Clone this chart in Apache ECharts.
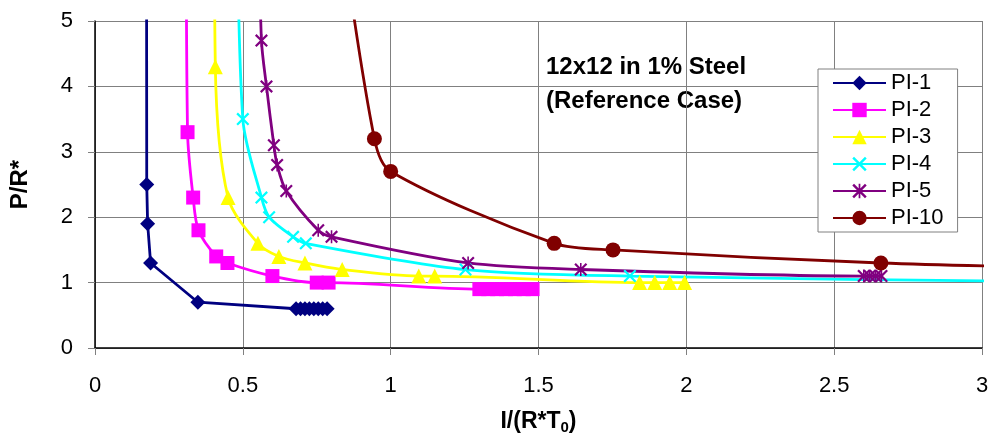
<!DOCTYPE html>
<html>
<head>
<meta charset="utf-8">
<script src="https://cdn.jsdelivr.net/npm/echarts@6/dist/echarts.min.js"></script>
<style>
  html, body { margin: 0; padding: 0; background: #fff; }
  #chart { width: 990px; height: 439px; }
</style>
</head>
<body>
<div id="chart"></div>
<script>
// values
const xTicks = [0, 0.5, 1, 1.5, 2, 2.5, 3]
const yTicks = [0, 1, 2, 3, 4, 5]

const pi1X = [0.174, 0.175, 0.178, 0.188, 0.348, 0.68, 0.695, 0.71, 0.725, 0.74, 0.755, 0.77, 0.785]
const pi1Y = [8, 2.5, 1.9, 1.3, 0.7, 0.6, 0.6, 0.6, 0.6, 0.6, 0.6, 0.6, 0.6]

const pi2X = [0.308, 0.313, 0.332, 0.35, 0.41, 0.448, 0.6, 0.75, 0.79, 1.3, 1.33, 1.36, 1.39, 1.42, 1.45, 1.48]
const pi2Y = [8, 3.3, 2.3, 1.8, 1.4, 1.3, 1.1, 1.0, 1.0, 0.9, 0.9, 0.9, 0.9, 0.9, 0.9, 0.9]

const pi3X = [0.403, 0.407, 0.45, 0.551, 0.622, 0.71, 0.836, 1.095, 1.149, 1.842, 1.893, 1.944, 1.994]
const pi3Y = [8, 4.3, 2.3, 1.6, 1.4, 1.3, 1.2, 1.1, 1.1, 1.0, 1.0, 1.0, 1.0]

const pi4X = [0.478, 0.5, 0.563, 0.589, 0.67, 0.713, 1.253, 1.809, 3.5]
const pi4Y = [8, 3.5, 2.3, 2.0, 1.7, 1.6, 1.2, 1.1, 1.0]

const pi5X = [0.555, 0.563, 0.58, 0.605, 0.616, 0.647, 0.755, 0.8, 1.262, 1.643, 2.6, 2.62, 2.64, 2.66]
const pi5Y = [6.5, 4.7, 4.0, 3.1, 2.8, 2.4, 1.8, 1.7, 1.3, 1.2, 1.1, 1.1, 1.1, 1.1]

const pi10X = [0.83, 0.945, 1.0, 1.553, 1.752, 2.658, 3.4]
const pi10Y = [6.5, 3.2, 2.7, 1.6, 1.5, 1.3, 1.22]

const seriesNames = ['PI-1', 'PI-2', 'PI-3', 'PI-4', 'PI-5', 'PI-10']
const seriesColors = ['#000080', '#FF00FF', '#FFFF00', '#00FFFF', '#800080', '#800000']

// custom marker shapes
const crossPath = 'path://M0,1.2 L1.2,0 L5,3.8 L8.8,0 L10,1.2 L6.2,5 L10,8.8 L8.8,10 L5,6.2 L1.2,10 L0,8.8 L3.8,5 Z'
const starPath = 'path://M0,1.2 L1.2,0 L5,3.8 L8.8,0 L10,1.2 L6.2,5 L10,8.8 L8.8,10 L5,6.2 L1.2,10 L0,8.8 L3.8,5 Z M4.4,0 L5.6,0 L5.6,10 L4.4,10 Z'

const zip = (xs, ys) => xs.map((x, i) => [x, ys[i]])

const lineSeries = (name, xs, ys, color, symbol, size, smooth) => ({
  name: name,
  type: 'line',
  data: zip(xs, ys),
  smooth: smooth,
  clip: true,
  symbol: symbol,
  symbolSize: size,
  showAllSymbol: true,
  lineStyle: { color: color, width: 2.8 },
  itemStyle: { color: color, borderWidth: 0 },
  emphasis: { disabled: true }
})

const chart = echarts.init(document.getElementById('chart'), null, { renderer: 'canvas' })

chart.setOption({
  animation: false,
  backgroundColor: '#fff',
  textStyle: { fontFamily: 'Liberation Sans, Arial, sans-serif' },
  grid: { left: 95, top: 21, right: 8, bottom: 91, outerBoundsMode: 'none', containLabel: false },
  graphic: [
    {
      type: 'text',
      left: 546,
      top: 50,
      z: -1,
      style: {
        text: '12x12 in 1% Steel\n(Reference Case)',
        font: 'bold 24px Liberation Sans, Arial, sans-serif',
        lineHeight: 34,
        fill: '#000'
      }
    }
  ],
  legend: {
    orient: 'vertical',
    left: 818,
    top: 69,
    data: seriesNames,
    itemWidth: 53,
    itemHeight: 18,
    itemGap: 5,
    padding: [3, 14, 3, 14],
    backgroundColor: '#fff',
    borderColor: '#808080',
    borderWidth: 1,
    textStyle: { fontSize: 22, color: '#000', fontFamily: 'Liberation Sans, Arial, sans-serif' }
  },
  xAxis: {
    type: 'value',
    min: 0,
    max: 3,
    interval: 0.5,
    name: '{a|I/(R*T}{s|0}{a|)}',
    nameLocation: 'middle',
    nameGap: 59,
    nameTextStyle: {
      rich: {
        a: { fontSize: 23, fontWeight: 'bold', color: '#000', lineHeight: 30 },
        s: { fontSize: 15, fontWeight: 'bold', color: '#000', lineHeight: 30, padding: [12, 0, 0, 0] }
      }
    },
    axisLine: { lineStyle: { color: '#000', width: 1.5 } },
    axisTick: { show: true, length: 7, lineStyle: { color: '#808080' } },
    axisLabel: {
      fontSize: 22,
      color: '#000',
      margin: 27,
      formatter: (v) => (xTicks.indexOf(v) >= 0 ? String(v) : '')
    },
    splitLine: { show: true, lineStyle: { color: '#808080', width: 1 } }
  },
  yAxis: {
    type: 'value',
    min: 0,
    max: 5,
    interval: 1,
    name: 'P/R*',
    nameLocation: 'middle',
    nameRotate: 90,
    nameGap: 63,
    nameTextStyle: { fontSize: 24, fontWeight: 'bold', color: '#000' },
    axisLine: { show: true, lineStyle: { color: '#000', width: 1.5 } },
    axisTick: { show: true, length: 7, lineStyle: { color: '#808080' } },
    axisLabel: {
      fontSize: 22,
      color: '#000',
      margin: 22,
      formatter: (v) => (yTicks.indexOf(v) >= 0 ? String(v) : '')
    },
    splitLine: { show: true, lineStyle: { color: '#808080', width: 1 } }
  },
  series: [
    lineSeries('PI-1', pi1X, pi1Y, seriesColors[0], 'diamond', 15, false),
    lineSeries('PI-2', pi2X, pi2Y, seriesColors[1], 'rect', 14, 0.3),
    lineSeries('PI-3', pi3X, pi3Y, seriesColors[2], 'triangle', 15, 0.3),
    lineSeries('PI-4', pi4X, pi4Y, seriesColors[3], crossPath, 13, 0.3),
    lineSeries('PI-5', pi5X, pi5Y, seriesColors[4], starPath, 13, 0.3),
    lineSeries('PI-10', pi10X, pi10Y, seriesColors[5], 'circle', 15, 0.3)
  ]
})
</script>
</body>
</html>
